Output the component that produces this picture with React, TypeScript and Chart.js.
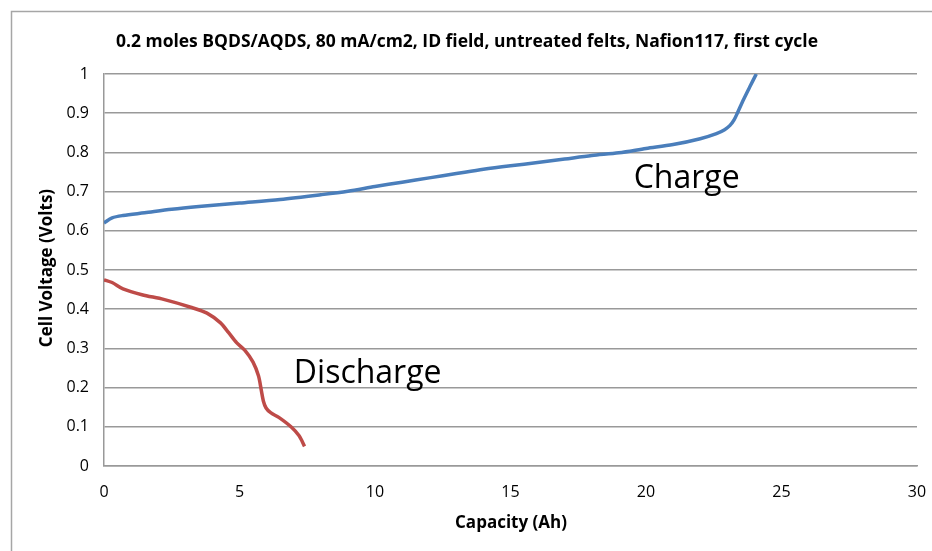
import React, { useEffect, useRef } from "react";
import { Chart, registerables } from "chart.js";

Chart.register(...registerables);

const TITLE = "0.2 moles BQDS/AQDS, 80 mA/cm2, ID field, untreated felts, Nafion117, first cycle";
const X_TITLE = "Capacity (Ah)";
const Y_TITLE = "Cell Voltage (Volts)";

const chargeX = [0, 0.3, 0.7, 1.5, 2.5, 3.5, 5, 6.5, 8, 9, 10, 11, 12, 13, 14, 15, 16, 17, 18, 19, 20, 21, 22, 22.6, 22.9, 23.1, 23.25, 23.37, 23.6, 23.85, 24.07];
const chargeY = [0.62, 0.633, 0.639, 0.646, 0.655, 0.662, 0.671, 0.68, 0.692, 0.701, 0.713, 0.724, 0.735, 0.746, 0.757, 0.766, 0.774, 0.783, 0.792, 0.799, 0.81, 0.82, 0.835, 0.848, 0.858, 0.869, 0.883, 0.9, 0.935, 0.97, 1.0];

const dischargeX = [0, 0.3, 0.7, 1.4, 2.2, 3.2, 3.8, 4.3, 4.6, 4.9, 5.2, 5.5, 5.7, 5.8, 5.88, 5.98, 6.15, 6.45, 6.9, 7.2, 7.4];
const dischargeY = [0.475, 0.468, 0.452, 0.437, 0.425, 0.405, 0.39, 0.365, 0.34, 0.314, 0.295, 0.265, 0.23, 0.195, 0.166, 0.148, 0.136, 0.124, 0.1, 0.077, 0.05];

const annotations = [
  { text: "Charge", x: 21.5, y: 0.709 },
  { text: "Discharge", x: 9.73, y: 0.212 },
];

export default function App() {
  const ref = useRef<HTMLCanvasElement>(null);
  useEffect(() => {
    document.body.style.margin = "0";
    const canvas = ref.current!;
    const textPlugin = {
      id: "texts",
      beforeDraw(chart: any) {
        const ctx = chart.ctx;
        ctx.save();
        ctx.fillStyle = "#ffffff";
        ctx.fillRect(0, 0, chart.width, chart.height);
        ctx.strokeStyle = "#a6a6a6";
        ctx.lineWidth = 1.5;
        ctx.beginPath();
        ctx.moveTo(11.5, chart.height + 2);
        ctx.lineTo(11.5, 11.5);
        ctx.lineTo(chart.width + 2, 11.5);
        ctx.stroke();
        ctx.restore();
      },
      afterDraw(chart: any) {
        const ctx = chart.ctx;
        const xs = chart.scales.x;
        const ys = chart.scales.y;
        const fitText = (t: string, x: number, y: number, target: number, rot: number) => {
          const w = ctx.measureText(t).width;
          ctx.save();
          ctx.translate(x, y);
          if (rot) ctx.rotate(rot);
          if (w > target) ctx.scale(target / w, 1);
          ctx.fillText(t, 0, 0);
          ctx.restore();
        };
        ctx.save();
        ctx.fillStyle = "#000";
        ctx.textAlign = "center";
        ctx.textBaseline = "middle";
        ctx.font = "bold 18px 'Open Sans'";
        fitText(TITLE, 467, 42, 702, 0);
        ctx.font = "bold 17px 'Open Sans'";
        fitText(X_TITLE, 511, 523, 112, 0);
        fitText(Y_TITLE, 47, 268, 180, -Math.PI / 2);
        ctx.font = "32px 'Open Sans'";
        ctx.textBaseline = "alphabetic";
        for (const a of annotations) {
          ctx.fillText(a.text, xs.getPixelForValue(a.x), ys.getPixelForValue(a.y));
        }
        ctx.restore();
      },
    };
    const chart = new Chart(canvas, {
      type: "scatter",
      data: {
        datasets: [
          {
            label: "Charge",
            data: chargeX.map((x, i) => ({ x, y: chargeY[i] })),
            showLine: true,
            borderColor: "#4a7ebb",
            borderWidth: 3.5,
            pointRadius: 0,
            tension: 0.3,
          },
          {
            label: "Discharge",
            data: dischargeX.map((x, i) => ({ x, y: dischargeY[i] })),
            showLine: true,
            borderColor: "#be4b48",
            borderWidth: 3.5,
            pointRadius: 0,
            tension: 0.3,
          },
        ],
      },
      options: {
        animation: false,
        responsive: false,
        layout: { padding: { top: 74, right: 15, left: 0, bottom: 0 } },
        plugins: { legend: { display: false }, tooltip: { enabled: false }, title: { display: false } },
        scales: {
          x: {
            type: "linear",
            min: 0,
            max: 30,
            ticks: { stepSize: 5, color: "#000", font: { family: "'Open Sans'", size: 16 }, padding: 17, maxRotation: 0 },
            grid: { display: false, drawTicks: false },
            border: { display: true, color: "#999", width: 1.5 },
            afterFit(s: any) {
              s.height = 85;
              s.paddingLeft = 0;
              s.paddingRight = 0;
            },
          },
          y: {
            type: "linear",
            min: 0,
            max: 1,
            ticks: {
              stepSize: 0.1,
              color: "#000",
              font: { family: "'Open Sans'", size: 16 },
              padding: 15,
              callback: (v: any) => String(Math.round(Number(v) * 10) / 10),
            },
            grid: { color: "#999", lineWidth: 1.5, drawTicks: false },
            border: { display: true, color: "#999", width: 1.5 },
            afterFit(s: any) { s.width = 104; },
          },
        },
      },
      plugins: [textPlugin],
    } as any);
    return () => chart.destroy();
  }, []);
  return <canvas ref={ref} width={932} height={551} style={{ display: "block" }} />;
}
